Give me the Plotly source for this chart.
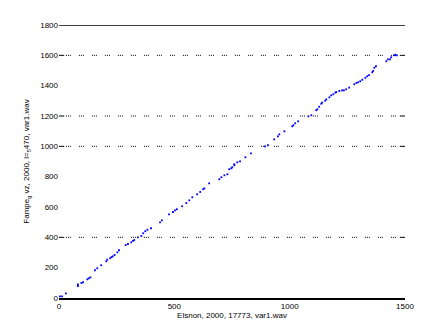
import plotly.graph_objects as go

x_vals = [4, 13, 30, 82, 82, 97, 104, 123, 129, 136, 156, 166, 183, 205, 209, 222, 228, 233, 241,
          253, 260, 289, 299, 313, 321, 326, 342, 357, 365, 374, 383, 399, 438, 446, 477, 494,
          503, 511, 534, 552, 565, 578, 599, 612, 625, 630, 651, 695, 704, 717, 730, 738, 747,
          751, 760, 760, 773, 785, 808, 832, 893, 906, 933, 949, 955, 977, 1011, 1016, 1024,
          1037, 1081, 1094, 1115, 1120, 1128, 1137, 1141, 1154, 1159, 1172, 1180, 1189, 1198,
          1202, 1215, 1227, 1235, 1245, 1258, 1280, 1289, 1297, 1306, 1315, 1328, 1336, 1344,
          1358, 1362, 1367, 1374, 1419, 1426, 1435, 1440, 1453, 1458, 1465]
y_vals = [11, 11, 31, 79, 89, 99, 104, 123, 130, 136, 183, 196, 216, 242, 253, 262, 270, 275, 284,
          301, 315, 349, 356, 367, 376, 382, 400, 409, 427, 440, 450, 460, 499, 512, 552, 567,
          578, 585, 605, 626, 644, 664, 684, 699, 717, 723, 756, 783, 796, 809, 816, 849, 855,
          862, 875, 882, 895, 901, 928, 954, 1000, 1007, 1046, 1066, 1079, 1099, 1132, 1139, 1152,
          1165, 1198, 1205, 1238, 1244, 1261, 1281, 1288, 1301, 1309, 1323, 1336, 1343, 1354,
          1358, 1365, 1369, 1369, 1376, 1387, 1409, 1418, 1422, 1429, 1439, 1452, 1462, 1470,
          1488, 1497, 1518, 1528, 1561, 1574, 1574, 1587, 1600, 1604, 1600]

x_ticks = [0, 500, 1000, 1500]
y_ticks = [0, 200, 400, 600, 800, 1000, 1200, 1400, 1600, 1800]
grid_levels = [400, 1000, 1200, 1600]

x_title = "Elsnon, 2000, 17773, var1.wav"
y_title = "Fampe<sub>g</sub> vz, 2000, l=<sub>5</sub>470, var1.wav"

fig = go.Figure()
fig.add_trace(go.Scatter(x=x_vals, y=y_vals, mode="markers",
                         marker=dict(color="#0000ff", size=1.8, symbol="square",
                                     line=dict(width=0)),
                         showlegend=False, hoverinfo="skip"))

shapes = []
for g in grid_levels:
    shapes.append(dict(type="line", xref="paper", yref="y", x0=0.02, x1=0.98, y0=g, y1=g,
                       line=dict(color="black", width=1, dash="1px,1px,1px,1px,1px,8px"),
                       layer="below"))
    shapes.append(dict(type="line", xref="paper", yref="y", x0=0, x1=0.015, y0=g, y1=g,
                       line=dict(color="black", width=1)))
    shapes.append(dict(type="line", xref="paper", yref="y", x0=0.985, x1=1, y0=g, y1=g,
                       line=dict(color="black", width=1)))
# top box line
shapes.append(dict(type="line", xref="paper", yref="y", x0=0, x1=1, y0=1800, y1=1800,
                   line=dict(color="black", width=1.5)))

fig.update_layout(
    width=447, height=335,
    margin=dict(l=59, r=42, t=25, b=37),
    paper_bgcolor="white", plot_bgcolor="white",
    font=dict(family="Liberation Sans, Arial, sans-serif", size=8, color="black"),
    shapes=shapes,
    xaxis=dict(range=[0, 1500], tickvals=x_ticks, ticktext=[str(v) for v in x_ticks],
               showgrid=False, zeroline=False, showline=True, linecolor="black", linewidth=1.5,
               ticks="", ticklen=0,
               title=dict(text=x_title, font=dict(size=8), standoff=2)),
    yaxis=dict(range=[0, 1800], tickvals=y_ticks, ticktext=[str(v) for v in y_ticks],
               showgrid=False, zeroline=False, showline=False,
               ticks="", ticklen=0,
               title=dict(text=y_title, font=dict(size=8), standoff=9)),
)

fig.write_html("out.html")
